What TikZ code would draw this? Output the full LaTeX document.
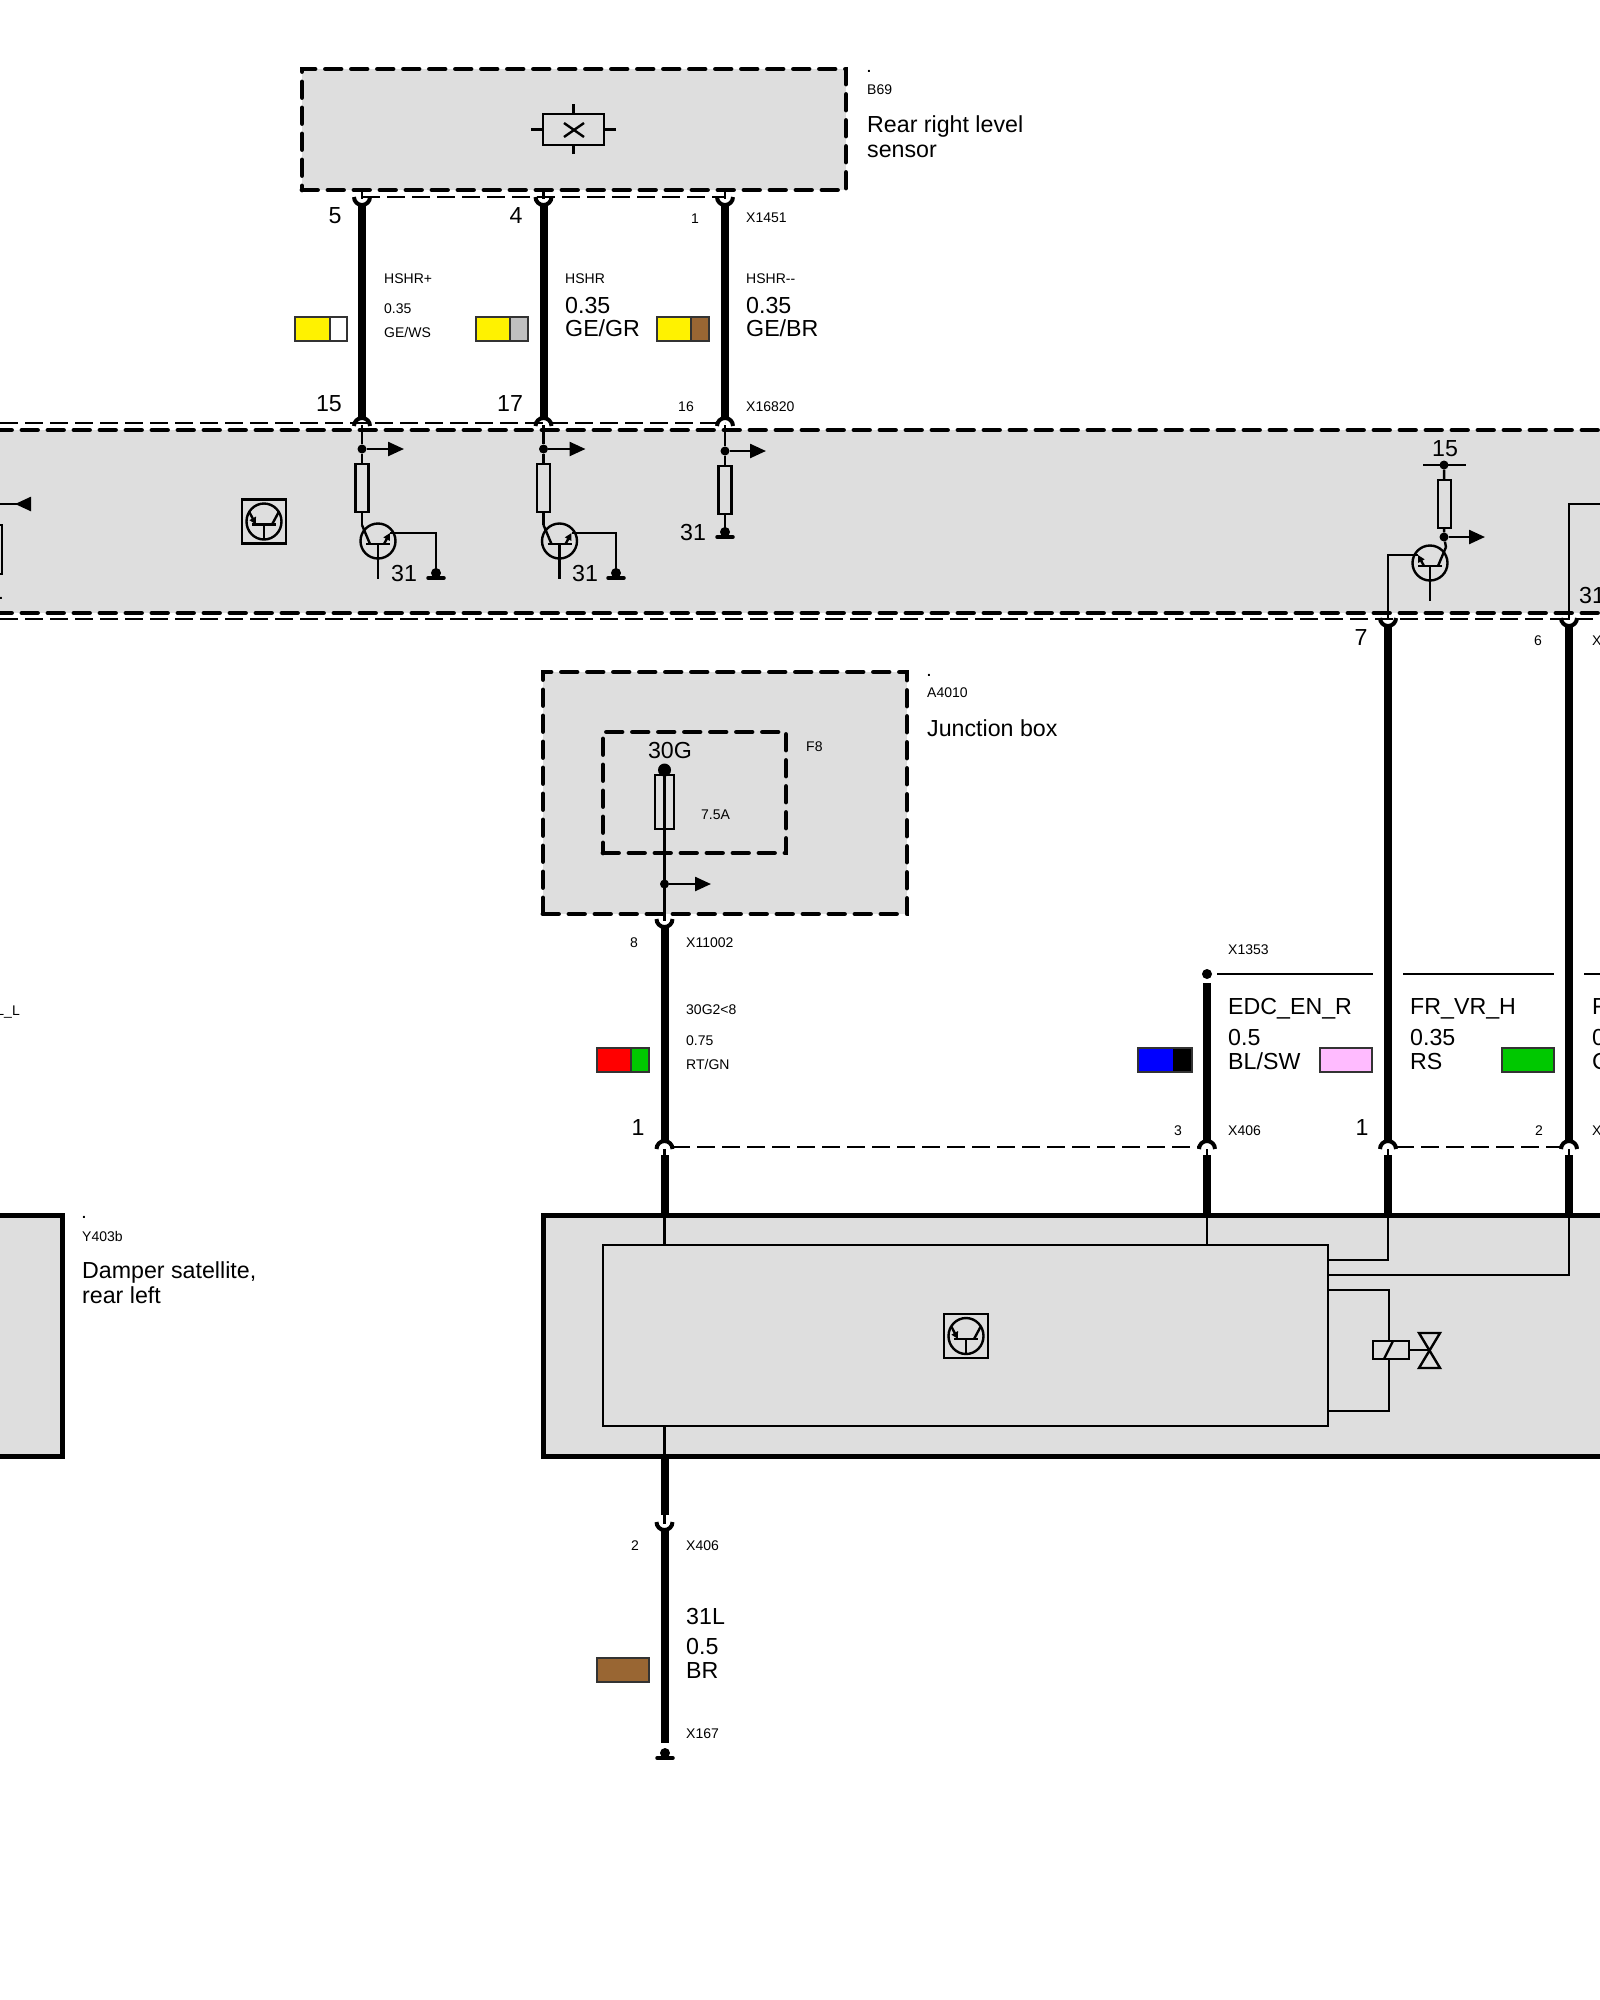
\documentclass[tikz,border=0pt]{standalone}
\usepackage{fontspec}
\setmainfont{Liberation Sans}
\usetikzlibrary{arrows.meta}
\definecolor{boxgray}{HTML}{DEDEDE}
\definecolor{wgray}{HTML}{C0C0C0}
\definecolor{wbrown}{HTML}{996633}
\definecolor{wgreen}{HTML}{00C800}
\definecolor{wpink}{HTML}{FFBBFF}
\tikzset{
  x=1pt, y=-1pt,
  wire/.style={line width=8pt},
  link/.style={line width=2.4pt},
  hair/.style={line width=2.2pt, dash pattern=on 18pt off 7pt},
  fork/.style={line width=4pt},
  dbox/.style={draw, fill=boxgray, line width=4.8pt, line cap=round, dash pattern=on 15.5pt off 10.5pt, inner sep=0pt},
  sbox/.style={draw, fill=boxgray, line width=5pt, inner sep=0pt},
  dedge/.style={line width=4.8pt, line cap=round, dash pattern=on 15.5pt off 10.5pt},
  res/.style={draw, line width=2.4pt, inner sep=0pt, minimum width=13pt, minimum height=48pt},
  dot/.style={circle, fill=black, inner sep=0pt, minimum size=9pt},
  tap/.style={link, -{Triangle[length=16pt,width=14pt]}},
  swatch/.style={draw=black!80, line width=2.4pt},
  small/.style={font=\fontsize{14}{14}\selectfont, anchor=west, inner sep=0pt, text height=10pt, text depth=0pt},
  big/.style={font=\fontsize{23.2}{23.2}\selectfont, anchor=west, inner sep=0pt, text height=16.5pt, text depth=0pt},
  bignum/.style={big, anchor=center},
  smallnum/.style={small, anchor=center},
  cup/.pic={\draw[fork] (-8,-1) arc[start angle=180, end angle=360, radius=8pt];},
  arch/.pic={\draw[fork] (-8,1) arc[start angle=180, end angle=0, radius=8pt];},
  trans/.pic={
    \draw[link] (0,0) circle[radius=17.5pt];
    \draw[link] (-12,3) -- (12,3);
    \draw[link] (0,3) -- (0,38);
    \draw[link] (-8,3) -- (-16,-16);
    \draw[link, -{Triangle[length=7pt,width=7pt]}] (6,3) -- (12,-8);
    \coordinate (-col) at (-16,-16);
    \coordinate (-emi) at (12,-8);
  },
  chip/.pic={
    \draw[link] (-22,-22) rectangle (22,22);
    \draw[link] (0,0) ellipse[x radius=17.5pt, y radius=18pt];
    \draw[link] (-12,3) -- (12,3);
    \draw[link] (0,3) -- (0,17);
    \draw[link] (8,3) -- (15,-10);
    \draw[link, -{Triangle[length=7pt,width=7pt]}] (-15,-10) -- (-8,3);
  },
  ground/.pic={
    \fill (0,-5) circle[radius=5pt];
    \draw[line width=3.5pt, line cap=round] (-8,0) -- (8,0);
    \coordinate (-top) at (0,-8);
  },
}
\begin{document}
\begin{tikzpicture}
  \clip (0,0) rectangle (1600,2000);
  \useasboundingbox (0,0) rectangle (1600,2000);

  % housings
  \node[dbox, minimum width=544pt, minimum height=121pt] (sensor) at (574,129.5) {};
  \fill[boxgray] (-5,430) rectangle (1605,613);
  \draw[dedge] (-4,430) -- (1604,430);
  \draw[dedge] (-4,613) -- (1604,613);
  \node[dbox, minimum width=364pt, minimum height=242pt] (jbox) at (725,793) {};
  \node[dbox, minimum width=183pt, minimum height=121pt] (fusebox) at (694.5,792.5) {};
  \node[sbox, minimum width=1200pt, minimum height=241pt] (damper) at (1143.5,1335.5) {};
  \node[sbox, minimum width=300pt, minimum height=241pt] (satl) at (-88,1335.5) {};
  \node[draw, fill=boxgray, line width=2.8pt, inner sep=0pt, minimum width=725pt, minimum height=181pt] (core) at (965.5,1335.5) {};

  % upper wires
  \foreach \name/\xpos in {a/362,b/543.5,c/725}{
    \pic at (\xpos,198) {cup};
    \pic at (\xpos,425) {arch};
    \coordinate (\name top) at (\xpos,203);
    \coordinate (\name end) at (\xpos,418);
    \coordinate (\name in) at (\xpos,190);
    \coordinate (\name cup) at (\xpos,199);
    \coordinate (\name out) at (\xpos,425);
    \coordinate (\name ecu) at (\xpos,431);
    \draw[wire] (\name top) -- (\name end);
    \draw[link] (\name in) -- (\name cup);
    \draw[link] (\name out) -- (\name ecu);
  }
  \draw[hair] (362,197) -- (725,197);
  \draw[hair] (0,423) -- (725,423);
  \draw[hair] (0,619) -- (1600,619);

  % level sensor symbol
  \node[draw, link, inner sep=0pt, minimum width=61pt, minimum height=31pt] (hall) at (573.5,129.5) {};
  \coordinate (hl) at (531,129.5);
  \coordinate (hr) at (616,129.5);
  \coordinate (ht) at (573.5,104);
  \coordinate (hb) at (573.5,154);
  \draw[link] (hl) -- (hall);
  \draw[link] (hr) -- (hall);
  \draw[link] (ht) -- (hall);
  \draw[link] (hb) -- (hall);
  \draw[link] (564,123) -- (584,137);
  \draw[link] (564,137) -- (584,123);

  % control unit, first two channels
  \pic at (264,521.5) {chip};
  \foreach \n/\xpos/\xg in {1/362/436,2/543.5/616}{
    \node[dot] (j\n) at (\xpos,449) {};
    \node[res] (r\n) at (\xpos,488) {};
    \coordinate (tap\n) at (\xpos+42,449);
    \pic (t\n) at (\xpos+16,541) {trans};
    \pic (g\n) at (\xg,578) {ground};
    \coordinate (w\n) at (\xg,533);
    \draw[link] (\xpos,430) -- (j\n);
    \draw[link] (j\n) -- (r\n);
    \draw[tap] (j\n) -- (tap\n);
    \draw[link] (r\n) -- (t\n-col);
    \draw[link] (t\n-emi) -- (w\n) -- (g\n-top);
  }
  \node[bignum] (n31a) at (404,573) {31};
  \node[bignum] (n31b) at (585,573) {31};

  % third channel
  \node[dot] (j3) at (725,451) {};
  \node[res] (r3) at (725,490) {};
  \coordinate (tap3) at (766,451);
  \pic (g3) at (725,537) {ground};
  \draw[link] (725,430) -- (j3);
  \draw[link] (j3) -- (r3);
  \draw[tap] (j3) -- (tap3);
  \draw[link] (r3) -- (g3-top);
  \node[bignum] (n31c) at (693,532) {31};

  % cut off part on the left
  \draw[tap, -{Triangle[reversed,length=16pt,width=14pt]}] (-5,504) -- (31,504);
  \draw[link] (-5,525) -- (2,525) -- (2,574) -- (-5,574);
  \node[smallnum, font=\fontsize{14}{14}\bfseries] (cutdot) at (1,594) {.};

  % pull up stage
  \node[dot] (j4) at (1444,465) {};
  \coordinate (barl) at (1423,465);
  \coordinate (barr) at (1466,465);
  \draw[link] (barl) -- (barr);
  \node[res] (r4) at (1444.5,504) {};
  \node[dot] (j5) at (1444,537) {};
  \coordinate (tap4) at (1485,537);
  \draw[link] (j4) -- (r4);
  \draw[link] (r4) -- (j5);
  \draw[tap] (j5) -- (tap4);
  \pic[xscale=-1] (t4) at (1430,563) {trans};
  \draw[link] (j5) -- (t4-col);
  \coordinate (k7) at (1388,555);
  \coordinate (k7ecu) at (1388,613);
  \draw[link] (t4-emi) -- (k7) -- (k7ecu);
  \coordinate (k6) at (1569,613);
  \coordinate (k6up) at (1569,504);
  \coordinate (k6out) at (1605,504);
  \draw[link] (k6) -- (k6up) -- (k6out);
  \node[bignum] (n15r) at (1445,448) {15};
  \node[bignum] (n31r) at (1592,595) {31};

  % fuse
  \node[draw, link, inner sep=0pt, minimum width=19pt, minimum height=54pt] (fuse) at (664.5,802) {};
  \coordinate (fusetop) at (664.5,770);
  \coordinate (fusebot) at (664.5,829);
  \coordinate (jout) at (664.5,914);
  \fill (fusetop) circle[radius=6.5pt];
  \draw[link] (fusetop) -- (fusebot) -- (jout);
  \node[dot] (j6) at (664.5,884) {};
  \coordinate (tap6) at (711,884);
  \draw[tap] (j6) -- (tap6);

  % wires between the units
  \pic at (664.5,920) {cup};
  \coordinate (h1) at (664.5,926);
  \coordinate (h1e) at (664.5,1141);
  \draw[wire] (h1) -- (h1e);
  \coordinate (h1s) at (664.5,921);
  \draw[link] (jout) -- (h1s);
  \pic at (1388,619) {cup};
  \pic at (1569,619) {cup};
  \coordinate (h2) at (1388,624);
  \coordinate (h2e) at (1388,1141);
  \coordinate (h3) at (1569,624);
  \coordinate (h3e) at (1569,1141);
  \draw[wire] (h2) -- (h2e);
  \draw[wire] (h3) -- (h3e);
  \draw[link] (1388,613) -- (1388,620);
  \draw[link] (1569,613) -- (1569,620);
  \node[dot, minimum size=10pt] (split) at (1207,974) {};
  \coordinate (h4) at (1207,983);
  \coordinate (h4e) at (1207,1141);
  \draw[wire] (h4) -- (h4e);
  \draw[link] (1217,974) -- (1373,974);
  \draw[link] (1403,974) -- (1554,974);
  \draw[link] (1584,974) -- (1600,974);
  \draw[hair] (672,1147) -- (1199,1147);
  \draw[hair] (1396,1147) -- (1561,1147);

  % entries into the damper unit
  \foreach \name/\xpos in {p/664.5,q/1207,r/1388,s/1569}{
    \pic at (\xpos,1148) {arch};
    \coordinate (\name a) at (\xpos,1155);
    \coordinate (\name b) at (\xpos,1215);
    \coordinate (\name c) at (\xpos,1149);
    \draw[wire] (\name a) -- (\name b);
    \draw[link] (\name c) -- (\name a);
  }
  \draw[link] (pb) -- (664.5,1245);
  \draw[link] (qb) -- (1207,1245);
  \coordinate (e1) at (1328,1260);
  \coordinate (e2) at (1328,1275);
  \draw[link] (rb) |- (e1);
  \draw[link] (sb) |- (e2);

  % valve
  \node[draw, link, inner sep=0pt, minimum width=36pt, minimum height=18pt] (coil) at (1391,1350) {};
  \coordinate (cupper) at (1328,1290);
  \coordinate (clower) at (1328,1411);
  \coordinate (vmid) at (1430,1350);
  \draw[link] (cupper) -| (1389,1341);
  \draw[link] (clower) -| (1389,1359);
  \draw[link] (1384,1359) -- (1393,1341);
  \draw[link] (coil) -- (vmid);
  \draw[link] (1419,1333) -- (1440,1333) -- (1419,1368) -- (1440,1368) -- cycle;
  \pic at (966,1336) {chip};

  % lower wire
  \coordinate (low1) at (664.5,1426);
  \coordinate (low2) at (664.5,1456);
  \coordinate (low3) at (664.5,1515);
  \coordinate (low4) at (664.5,1524);
  \coordinate (low5) at (664.5,1529);
  \coordinate (low6) at (664.5,1743);
  \draw[link] (low1) -- (low2);
  \draw[wire] (low2) -- (low3);
  \draw[link] (low3) -- (low4);
  \pic at (664.5,1523) {cup};
  \draw[wire] (low5) -- (low6);
  \pic at (665,1758) {ground};

  % colour codes
  \foreach \xa/\xb/\xc/\ya/\cola/\colb in {295/330/347/317/yellow/white, 476/510/528/317/yellow/wgray, 657/691/709/317/yellow/wbrown, 597/631/649/1048/red/wgreen, 1138/1173/1192/1048/blue/black, 1320/1346/1372/1048/wpink/wpink, 1502/1528/1554/1048/wgreen/wgreen, 597/623/649/1658/wbrown/wbrown}{
    \fill[\cola] (\xa,\ya) rectangle (\xb,\ya+24);
    \fill[\colb] (\xb,\ya) rectangle (\xc,\ya+24);
    \draw[swatch] (\xa,\ya) rectangle (\xc,\ya+24);
  }
  \draw[swatch] (330,317) -- (330,341);
  \draw[swatch] (510,317) -- (510,341);
  \draw[swatch] (691,317) -- (691,341);
  \draw[swatch] (631,1048) -- (631,1072);

  % texts, top part
  \node[small, font=\fontsize{14}{14}\bfseries] (bdot) at (867,67) {.};
  \node[small] (bid) at (867,89) {B69};
  \node[big] (bname) at (867,124) {Rear right level};
  \node[big] (bname2) at (867,149) {sensor};
  \node[bignum] (n5) at (335,215) {5};
  \node[bignum] (n4) at (516,215) {4};
  \node[smallnum] (n1) at (695,218) {1};
  \node[small] (x1451) at (746,217) {X1451};
  \node[small] (s1) at (384,278) {HSHR+};
  \node[small] (s1a) at (384,308) {0.35};
  \node[small] (s1b) at (384,332) {GE/WS};
  \node[small] (s2) at (565,278) {HSHR};
  \node[big] (s2a) at (565,305) {0.35};
  \node[big] (s2b) at (565,328) {GE/GR};
  \node[small] (s3) at (746,278) {HSHR{-}{-}};
  \node[big] (s3a) at (746,305) {0.35};
  \node[big] (s3b) at (746,328) {GE/BR};
  \node[bignum] (n15) at (329,403) {15};
  \node[bignum] (n17) at (510,403) {17};
  \node[smallnum] (n16) at (686,406) {16};
  \node[small] (x16820) at (746,406) {X16820};
  \node[bignum] (n7) at (1361,637) {7};
  \node[smallnum] (n6) at (1538,640) {6};
  \node[small] (xcut) at (1592,640) {X};

  % texts, junction box
  \node[small, font=\fontsize{14}{14}\bfseries] (adot) at (927,671) {.};
  \node[small] (aid) at (927,692) {A4010};
  \node[big] (aname) at (927,728) {Junction box};
  \node[small] (f8) at (806,746) {F8};
  \node[bignum] (k30g) at (670,750) {30G};
  \node[small] (amp) at (701,814) {7.5A};
  \node[smallnum] (n8) at (634,942) {8};
  \node[small] (x11002) at (686,942) {X11002};
  \node[small] (t1) at (686,1009) {30G2<8};
  \node[small] (t1a) at (686,1040) {0.75};
  \node[small] (t1b) at (686,1064) {RT/GN};

  % texts, right part
  \node[small] (x1353) at (1228,949) {X1353};
  \node[big] (t2) at (1228,1006) {EDC\_EN\_R};
  \node[big] (t2a) at (1228,1037) {0.5};
  \node[big] (t2b) at (1228,1061) {BL/SW};
  \node[big] (t3) at (1410,1006) {FR\_VR\_H};
  \node[big] (t3a) at (1410,1037) {0.35};
  \node[big] (t3b) at (1410,1061) {RS};
  \node[big] (t6) at (1592,1006) {F};
  \node[big] (t6a) at (1592,1037) {0};
  \node[big] (t6b) at (1592,1061) {C};
  \node[smallnum] (n3) at (1178,1130) {3};
  \node[small] (x406a) at (1228,1130) {X406};
  \node[bignum] (n1b) at (1362,1127) {1};
  \node[smallnum] (n2) at (1539,1130) {2};
  \node[small] (xcut2) at (1592,1130) {X};
  \node[bignum] (n1c) at (638,1127) {1};

  % texts, left and bottom
  \node[small, anchor=east] (cutl) at (20,1010) {L\_L};
  \node[small, font=\fontsize{14}{14}\bfseries] (ydot) at (82,1213) {.};
  \node[small] (yid) at (82,1236) {Y403b};
  \node[big] (yname) at (82,1270) {Damper satellite,};
  \node[big] (yname2) at (82,1295) {rear left};
  \node[smallnum] (n2b) at (635,1545) {2};
  \node[small] (x406b) at (686,1545) {X406};
  \node[big] (t5) at (686,1616) {31L};
  \node[big] (t5a) at (686,1646) {0.5};
  \node[big] (t5b) at (686,1670) {BR};
  \node[small] (x167) at (686,1733) {X167};
\end{tikzpicture}
\end{document}
